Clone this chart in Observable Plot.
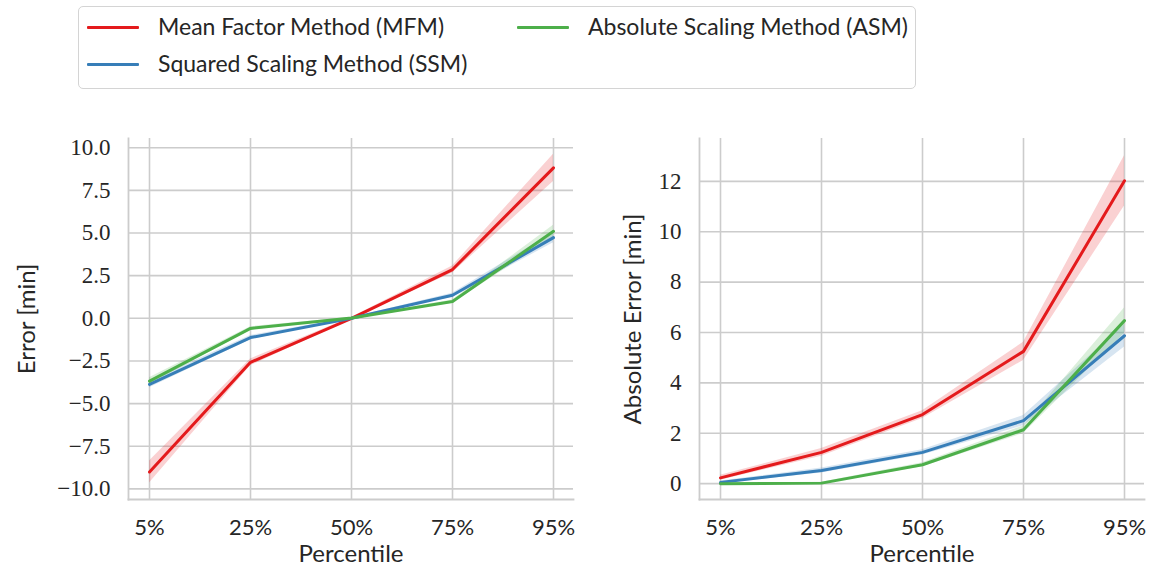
<!DOCTYPE html>
<html>
<head>
<meta charset="utf-8">
<script src="https://cdn.jsdelivr.net/npm/d3@7"></script>
<script src="https://cdn.jsdelivr.net/npm/@observablehq/plot@0.6"></script>
<style>
  html, body { margin: 0; padding: 0; background: #ffffff; }
  #figure { position: relative; width: 1150px; height: 570px; overflow: hidden; }
  #legend {
    position: absolute; left: 78px; top: 6px; width: 836px; height: 81px;
    border: 1.6px solid #d4d4d4; border-radius: 5px; background: #fff;
    font-family: Lato, "Noto Sans", sans-serif; font-size: 23px; color: #262626;
  }
  .swatch { position: absolute; height: 3px; width: 52px; border-radius: 1px; }
  .entry { position: absolute; white-space: nowrap; line-height: 1; }
  #charts { position: absolute; left: 0; top: 100px; display: flex; }
  #charts svg { display: block; }
</style>
</head>
<body>
<div id="figure">
  <div id="legend"></div>
  <div id="charts"></div>
</div>
<script>
// Percentile categories on the x axis
const percentiles = ["5%", "25%", "50%", "75%", "95%"];

// Methods, in legend order, with their line colours
const methods = [
  "Mean Factor Method (MFM)",
  "Squared Scaling Method (SSM)",
  "Absolute Scaling Method (ASM)"
];
const methodColors = ["#e41a1c", "#377eb8", "#4daf4a"];

// Signed error [min] per percentile
const errorMFM = [-9.01, -2.58, 0.0, 2.86, 8.82];
const errorSSM = [-3.87, -1.13, 0.0, 1.35, 4.73];
const errorASM = [-3.68, -0.59, 0.02, 0.98, 5.10];

// Half-width of the confidence band around the signed error
const errorCiMFM = [0.65, 0.2, 0.05, 0.2, 0.8];
const errorCiSSM = [0.2, 0.12, 0.03, 0.12, 0.3];
const errorCiASM = [0.2, 0.1, 0.03, 0.1, 0.35];

// Absolute error [min] per percentile
const absMFM = [0.23, 1.24, 2.74, 5.25, 12.02];
const absSSM = [0.05, 0.52, 1.24, 2.5, 5.87];
const absASM = [0.0, 0.02, 0.75, 2.14, 6.47];

// Half-width of the confidence band around the absolute error
const absCiMFM = [0.1, 0.15, 0.15, 0.36, 1.0];
const absCiSSM = [0.05, 0.1, 0.1, 0.2, 0.45];
const absCiASM = [0.02, 0.03, 0.08, 0.15, 0.5];

// Axis ticks
const errorTicks = [-10, -7.5, -5, -2.5, 0, 2.5, 5, 7.5, 10];
const absTicks = [0, 2, 4, 6, 8, 10, 12];

const SANS = "Lato, 'Noto Sans', sans-serif";
const SERIF = "'Liberation Serif', serif";
const GRID = "#cccccc";
const INK = "#262626";

function toRows(series, cis) {
  return methods.flatMap((m, i) =>
    percentiles.map((p, j) => ({
      method: m,
      pct: p,
      value: series[i][j],
      lo: series[i][j] - cis[i][j],
      hi: series[i][j] + cis[i][j]
    }))
  );
}

function panel({rows, yDomain, yTicks, yFormat, yLabel, width, marginLeft, marginRight, labelX}) {
  return Plot.plot({
    width,
    height: 470,
    marginTop: 38,
    marginBottom: 71,
    marginLeft,
    marginRight,
    style: {background: "white", color: INK},
    x: {type: "point", domain: percentiles, padding: 0.2, label: null},
    y: {domain: yDomain, label: null, axis: null},
    color: {domain: methods, range: methodColors},
    marks: [
      Plot.gridX({stroke: GRID, strokeOpacity: 1, strokeWidth: 1.6}),
      Plot.gridY(yTicks, {stroke: GRID, strokeOpacity: 1, strokeWidth: 1.6}),
      Plot.frame({anchor: "left", stroke: GRID, strokeWidth: 1.8}),
      Plot.frame({anchor: "bottom", stroke: GRID, strokeWidth: 1.8}),
      Plot.areaY(rows, {x: "pct", y1: "lo", y2: "hi", z: "method", fill: "method", fillOpacity: 0.2, curve: "linear"}),
      Plot.lineY(rows, {x: "pct", y: "value", z: "method", stroke: "method", strokeWidth: 3, curve: "linear"}),
      // y tick labels, set in a serif face
      Plot.text(yTicks, {
        y: (d) => d, frameAnchor: "left", dx: -18, text: yFormat,
        textAnchor: "end", lineAnchor: "middle",
        fontFamily: SERIF, fontSize: 23, fill: INK
      }),
      Plot.axisX({
        tickSize: 0, tickPadding: 20, label: null,
        fontFamily: SANS, fontSize: 22, fill: INK
      }),
      Plot.text([yLabel], {
        frameAnchor: "left", dx: labelX - marginLeft, rotate: -90,
        textAnchor: "middle", lineAnchor: "middle",
        fontFamily: SANS, fontSize: 24, fill: INK
      }),
      Plot.text(["Percentile"], {
        frameAnchor: "bottom", dy: 55, lineAnchor: "middle",
        fontFamily: SANS, fontSize: 24, fill: INK
      })
    ]
  });
}

const errorRows = toRows([errorMFM, errorSSM, errorASM], [errorCiMFM, errorCiSSM, errorCiASM]);
const absRows = toRows([absMFM, absSSM, absASM], [absCiMFM, absCiSSM, absCiASM]);

const charts = document.getElementById("charts");
charts.append(panel({
  rows: errorRows,
  yDomain: [-10.62, 10.54],
  yTicks: errorTicks,
  yFormat: d3.format(".1f"),
  yLabel: "Error [min]",
  width: 590, marginLeft: 128, marginRight: 17, labelX: 27
}));
charts.append(panel({
  rows: absRows,
  yDomain: [-0.63, 13.7],
  yTicks: absTicks,
  yFormat: d3.format("d"),
  yLabel: "Absolute Error [min]",
  width: 560, marginLeft: 109, marginRight: 6, labelX: 43
}));

// Legend: two columns, filled column by column
const legend = document.getElementById("legend");
const colX = [8, 438];
const rowY = [20, 57];
methods.forEach((m, i) => {
  const col = Math.floor(i / 2), row = i % 2;
  const sw = document.createElement("div");
  sw.className = "swatch";
  sw.style.background = methodColors[i];
  sw.style.left = colX[col] + "px";
  sw.style.top = (rowY[row] - 1.5) + "px";
  legend.append(sw);
  const t = document.createElement("div");
  t.className = "entry";
  t.textContent = m;
  t.style.left = (colX[col] + 71) + "px";
  t.style.top = (rowY[row] - 12) + "px";
  legend.append(t);
});
</script>
</body>
</html>
